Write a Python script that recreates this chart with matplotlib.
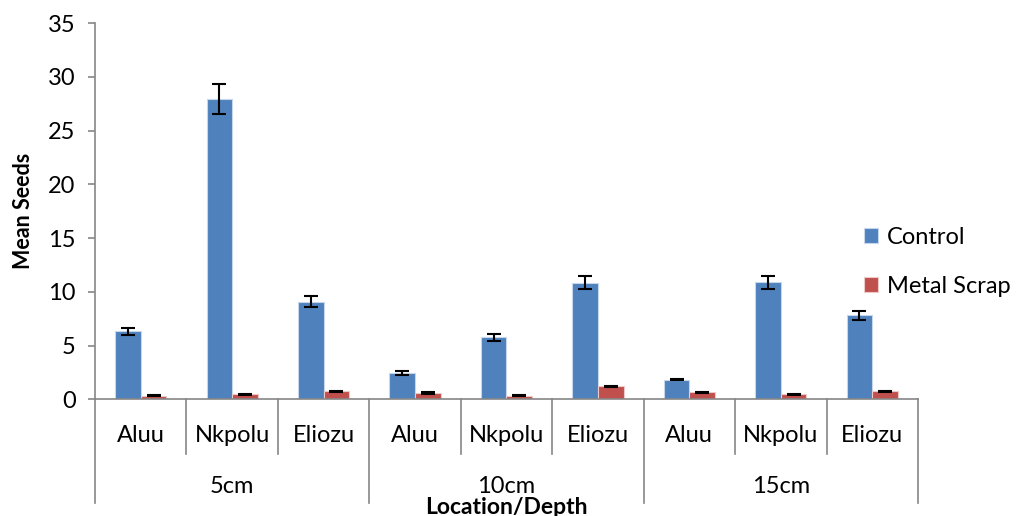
import numpy as np
import matplotlib.pyplot as plt
import matplotlib.transforms as mtransforms

plt.rcParams['font.family'] = ['Lato', 'DejaVu Sans']

depths = ['5cm', '10cm', '15cm']
locations = ['Aluu', 'Nkpolu', 'Eliozu']

control = [6.35, 27.9, 9.1, 2.5, 5.8, 10.85, 1.85, 10.9, 7.85]
control_err = [0.33, 1.4, 0.48, 0.18, 0.33, 0.59, 0.08, 0.6, 0.42]
metal = [0.35, 0.5, 0.78, 0.6, 0.35, 1.22, 0.68, 0.5, 0.78]
metal_err = [0.05, 0.05, 0.05, 0.05, 0.04, 0.06, 0.05, 0.05, 0.05]

blue = '#4F81BD'
red = '#C0504D'
grey = '#868686'

fig = plt.figure(figsize=(10.16, 5.16), dpi=100)
ax = fig.add_axes([0.0935, 0.2258, 0.81, 0.7296])

n = len(control)
x = np.arange(n)
w = 0.28
ekw = dict(ecolor='black', elinewidth=1.5, capsize=5, capthick=1.5)
ax.bar(x - w / 2, control, w, color=blue, edgecolor='#C6D7EC', linewidth=0.8,
       yerr=control_err, error_kw=ekw, label='Control')
ax.bar(x + w / 2, metal, w, color=red, edgecolor='#EDC9C8', linewidth=0.8,
       yerr=metal_err, error_kw=ekw, label='Metal Scrap')

ax.set_xlim(-0.5, n - 0.5)
ax.set_ylim(0, 35)
ax.set_yticks(np.arange(0, 36, 5))
ax.tick_params(axis='y', labelsize=17, length=5, color=grey, width=1.2, pad=9)
ax.set_xticks([])

for s in ['top', 'right']:
    ax.spines[s].set_visible(False)
for s in ['left', 'bottom']:
    ax.spines[s].set_color(grey)
    ax.spines[s].set_linewidth(1.2)

ax.set_ylabel('Mean Seeds', fontsize=15.5, fontweight='bold', labelpad=10)

# grouped category axis
trans = mtransforms.blended_transform_factory(ax.transData, ax.transAxes)
for i in range(n + 1):
    xb = i - 0.5
    y_end = -0.275 if i % 3 == 0 else -0.145
    ax.plot([xb, xb], [0, y_end], color=grey, lw=1.2, transform=trans, clip_on=False)

for i in range(n):
    ax.text(x[i], -0.095, locations[i % 3], transform=trans, ha='center', va='center', fontsize=17)
for g, d in enumerate(depths):
    ax.text(3 * g + 1, -0.23, d, transform=trans, ha='center', va='center', fontsize=17)

ax.text(4, -0.287, 'Location/Depth', transform=trans, ha='center', va='center',
        fontsize=16.5, fontweight='bold')

fig.legend(*ax.get_legend_handles_labels(), loc='center left', bbox_to_anchor=(0.850, 0.492),
           frameon=False, fontsize=17, borderpad=0, borderaxespad=0,
           handlelength=0.6, handleheight=0.6, labelspacing=1.2, handletextpad=0.4)

fig.savefig('out.png', dpi=100)
